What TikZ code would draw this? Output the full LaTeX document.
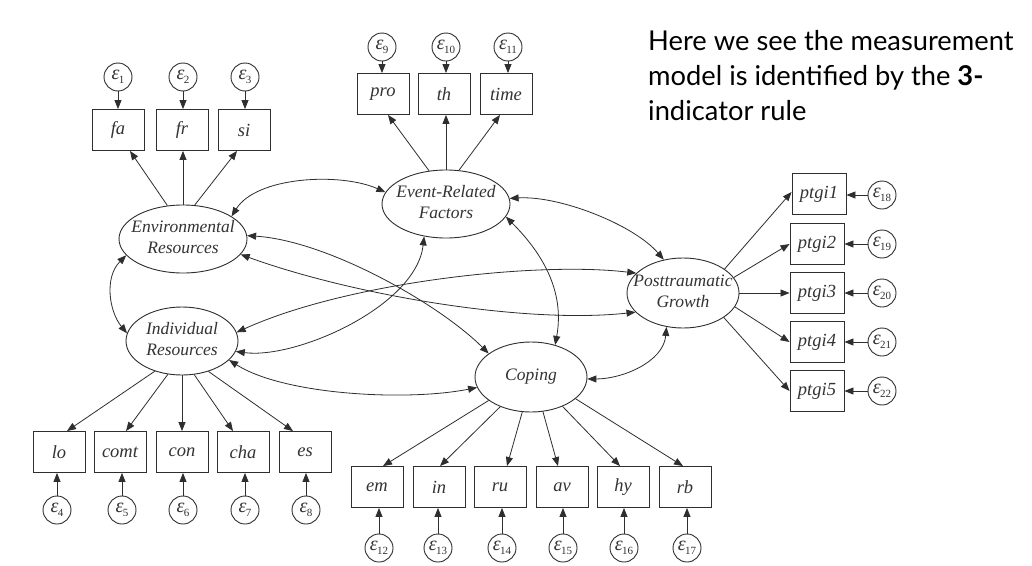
\documentclass[tikz,border=0pt]{standalone}
\usepackage{fontspec}
\setmainfont{Liberation Serif}
\newfontfamily\notefont{Lato}
\usetikzlibrary{arrows.meta,shapes.geometric,calc}
\definecolor{lc}{HTML}{2E2E2E}
\definecolor{tc}{HTML}{333333}
\newcommand\twoline[2]{\makebox[0pt]{\begin{tabular}{@{}c@{}}#1\\#2\end{tabular}}}
\newcommand\epsl[1]{\makebox[0pt]{\itshape ε\kern-0.5pt\raisebox{-4pt}{\upshape\fontsize{11}{11}\selectfont #1}}}
\begin{document}
\begin{tikzpicture}[x=1pt,y=1pt,
  lat/.style={ellipse,draw=lc,line width=0.9pt,inner sep=0pt,minimum width=112pt,minimum height=68pt,
    font=\fontsize{17.5}{21}\selectfont\itshape,text=tc},
  obs/.style={rectangle,draw=lc,line width=0.9pt,minimum width=52pt,minimum height=41pt,inner sep=0pt,
    font=\fontsize{18.5}{20}\selectfont\itshape,text=tc},
  err/.style={circle,draw=lc,line width=0.9pt,minimum size=28pt,inner sep=0pt,
    font=\fontsize{20}{20}\selectfont,text=tc},
  arr/.style={draw=lc,line width=0.8pt,-{Triangle[length=9pt,width=7pt]}},
  cov/.style={draw=lc,line width=0.8pt,{Triangle[length=9pt,width=7pt]}-{Triangle[length=9pt,width=7pt]}},
]
\fill[white] (0,0) rectangle (1032,-565);
\useasboundingbox (0,0) rectangle (1032,-565);

% latent variables
\node[lat,minimum width=128pt] (ER) at (183,-239) {\twoline{Environmental}{Resources}};
\node[lat,minimum width=128pt] (ERF) at (446,-204) {\twoline{Event-Related}{Factors}};
\node[lat] (IR) at (182,-341) {\twoline{Individual}{Resources}};
\node[lat,minimum height=70pt] (COP) at (531,-377) {\makebox[0pt]{Coping}};
\node[lat,minimum height=70pt] (PG) at (683,-293) {\twoline{Posttraumatic}{Growth}};

% indicators
\node[obs] (fa) at (118,-130) {fa};
\node[obs] (fr) at (182,-130) {fr};
\node[obs] (si) at (244,-130) {si};
\node[obs] (pro) at (383,-94) {pro};
\node[obs] (th) at (444,-94) {th};
\node[obs] (time) at (506,-94) {time};
\node[obs] (lo) at (59,-452) {lo};
\node[obs] (comt) at (120,-452) {comt};
\node[obs] (con) at (182,-452) {con};
\node[obs] (cha) at (243,-452) {cha};
\node[obs] (es) at (305,-452) {es};
\node[obs] (xem) at (377,-487) {em};
\node[obs] (xin) at (439,-487) {in};
\node[obs] (xru) at (500,-487) {ru};
\node[obs] (xav) at (562,-487) {av};
\node[obs] (xhy) at (623,-487) {hy};
\node[obs] (xrb) at (685,-487) {rb};
\node[obs,minimum width=54pt] (p1) at (819,-194) {ptgi1};
\node[obs,minimum width=54pt] (p2) at (817,-244) {ptgi2};
\node[obs,minimum width=54pt] (p3) at (817,-293) {ptgi3};
\node[obs,minimum width=54pt] (p4) at (817,-342) {ptgi4};
\node[obs,minimum width=54pt] (p5) at (817,-391) {ptgi5};

% errors
\node[err] (e1) at (118,-77) {\epsl{1}};
\node[err] (e2) at (183,-77) {\epsl{2}};
\node[err] (e3) at (245,-77) {\epsl{3}};
\node[err] (e9) at (382,-47) {\epsl{9}};
\node[err] (e10) at (446,-47) {\epsl{10}};
\node[err] (e11) at (508,-47) {\epsl{11}};
\node[err] (e4) at (57,-510) {\epsl{4}};
\node[err] (e5) at (122,-510) {\epsl{5}};
\node[err] (e6) at (183,-510) {\epsl{6}};
\node[err] (e7) at (245,-510) {\epsl{7}};
\node[err] (e8) at (306,-510) {\epsl{8}};
\node[err] (e12) at (379,-548) {\epsl{12}};
\node[err] (e13) at (438,-548) {\epsl{13}};
\node[err] (e14) at (502,-548) {\epsl{14}};
\node[err] (e15) at (563,-548) {\epsl{15}};
\node[err] (e16) at (624,-548) {\epsl{16}};
\node[err] (e17) at (687,-548) {\epsl{17}};
\node[err] (e18) at (882,-195) {\epsl{18}};
\node[err] (e19) at (882,-244) {\epsl{19}};
\node[err] (e20) at (882,-293) {\epsl{20}};
\node[err] (e21) at (882,-342) {\epsl{21}};
\node[err] (e22) at (882,-391) {\epsl{22}};

% error arrows
\foreach \e/\b in {e1/fa,e2/fr,e3/si,e9/pro,e10/th,e11/time}
  \draw[arr] (\e) -- (\e |- \b.north);
\foreach \e/\b in {e4/lo,e5/comt,e6/con,e7/cha,e8/es,e12/xem,e13/xin,e14/xru,e15/xav,e16/xhy,e17/xrb}
  \draw[arr] (\e) -- (\e |- \b.south);
\foreach \e/\b in {e18/p1,e19/p2,e20/p3,e21/p4,e22/p5}
  \draw[arr] (\e) -- (\e -| \b.east);

% loadings
\draw[arr] (ER.115) -- ($(fa.south)+(12,0)$);
\draw[arr] (ER.north) -- (ER.north |- fr.south);
\draw[arr] (ER.71) -- ($(si.south)+(-7,0)$);
\draw[arr] (ERF.117) -- ($(pro.south)+(5,0)$);
\draw[arr] (ERF.north) -- (ERF.north |- th.south);
\draw[arr] (ERF.69) -- ($(time.south)+(-6,0)$);
\draw[arr] (IR.228) -- ($(lo.north)+(8,0)$);
\draw[arr] (IR.247) -- ($(comt.north)+(6,0)$);
\draw[arr] (IR.south) -- (IR.south |- con.north);
\draw[arr] (IR.290) -- ($(cha.north)+(-10,0)$);
\draw[arr] (IR.311) -- ($(es.north)+(-12,0)$);
\draw[arr] (COP.209) -- ($(xem.north)+(6,0)$);
\draw[arr] (COP.224) -- ($(xin.north)+(1,0)$);
\draw[arr] (COP.256) -- ($(xru.north)+(7,0)$);
\draw[arr] (COP.289) -- ($(xav.north)+(-4,0)$);
\draw[arr] (COP.317) -- ($(xhy.north)+(-3,0)$);
\draw[arr] (COP.334) -- ($(xrb.north)+(-2,0)$);
\draw[arr] (PG.30) -- ($(p1.west)+(0,2)$);
\draw[arr] (PG.17) -- (p2.west);
\draw[arr] (PG.east) -- (p3.west);
\draw[arr] (PG.-15) -- (p4.west);
\draw[arr] (PG.-31) -- (p5.west);

% covariances
\draw[cov] (ER.25) .. controls +(25,40) and +(-45,20) .. (ERF.169);
\draw[cov] (ER.196) .. controls +(-22,-22) and +(-18,22) .. (IR.172);
\draw[cov] (ER.3) .. controls +(80,-5) and +(-50,50) .. (COP.151);
\draw[cov] (ER.-15) .. controls +(113,-41) and +(-110,-12) .. (PG.202);
\draw[cov] (IR.9) .. controls +(110,50) and +(-100,12) .. (PG.157);
\draw[cov] (IR.-11) .. controls +(60,-8) and +(-8,-70) .. (ERF.236);
\draw[cov] (IR.-22) .. controls +(55,-35) and +(-70,-14) .. (COP.191);
\draw[cov] (ERF.5) .. controls +(50,3) and +(-30,35) .. (PG.120);
\draw[cov] (ERF.-12) .. controls +(35,-35) and +(10,55) .. (COP.53);
\draw[cov] (COP.-2) .. controls +(35,0) and +(-3,-35) .. (PG.244);

% note
\node[anchor=north west,align=left,inner sep=0pt,font=\notefont\fontsize{27.3}{35}\selectfont,text=black]
  (note) at (648,-30) {Here we see the measurement\\model is identified by the \textbf{3-}\\indicator rule};
\end{tikzpicture}
\end{document}
